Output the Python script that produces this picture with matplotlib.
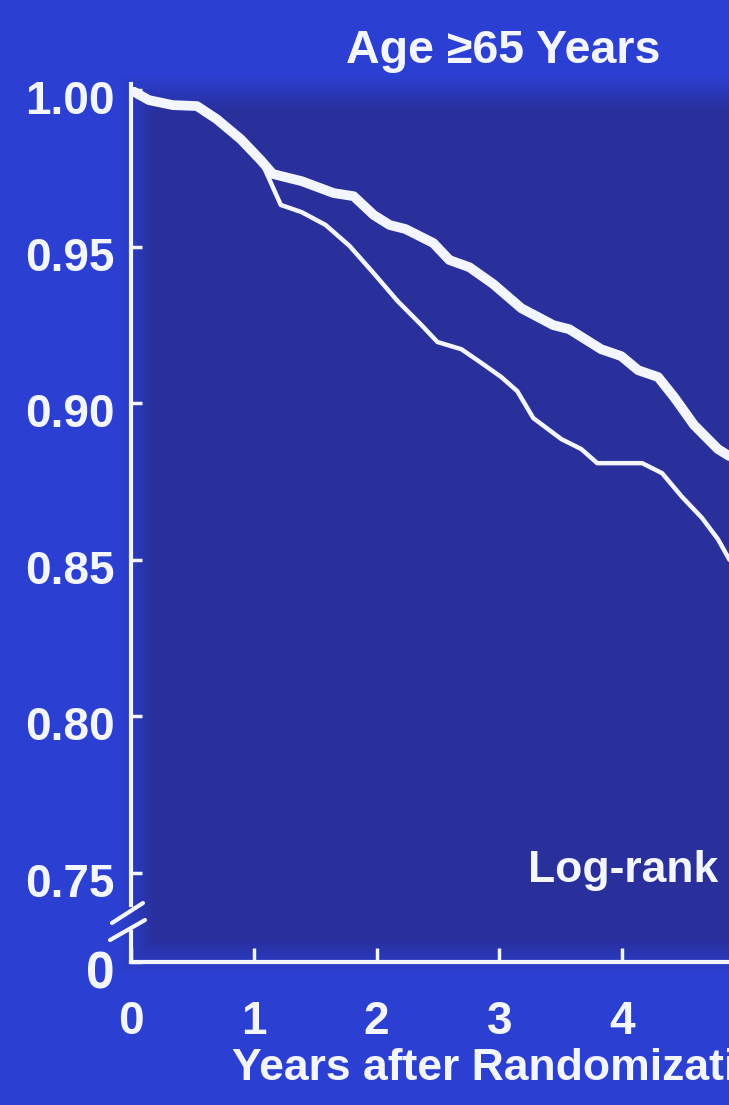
import numpy as np
import matplotlib.pyplot as plt
from matplotlib.transforms import ScaledTranslation

# survival curves (years, proportion event-free)
t_upper = [0.0, 0.146, 0.341, 0.537, 0.699, 0.894, 1.057, 1.154, 1.39, 1.65,
           1.813, 1.976, 2.106, 2.236, 2.463, 2.593, 2.756, 2.951, 3.179,
           3.439, 3.569, 3.829, 3.992, 4.130, 4.293, 4.423, 4.585, 4.780, 4.87]
s_upper = [1.000, 0.9968, 0.9952, 0.9949, 0.9907, 0.9843, 0.9776, 0.9732,
           0.9709, 0.9671, 0.9661, 0.9601, 0.9569, 0.9556, 0.9511, 0.9457,
           0.9434, 0.9380, 0.9303, 0.9249, 0.9236, 0.9172, 0.9150, 0.9105,
           0.9083, 0.9019, 0.8930, 0.8853, 0.8831]

t_lower = [0.0, 0.146, 0.341, 0.537, 0.699, 0.894, 1.057, 1.22, 1.39, 1.585,
           1.78, 1.976, 2.171, 2.366, 2.496, 2.691, 2.854, 3.016, 3.146,
           3.276, 3.504, 3.667, 3.797, 4.163, 4.325, 4.488, 4.650, 4.780, 4.87]
s_lower = [1.000, 0.9968, 0.9952, 0.9949, 0.9907, 0.9843, 0.9776, 0.9633,
           0.9610, 0.9569, 0.9502, 0.9415, 0.9326, 0.9249, 0.9195, 0.9172,
           0.9128, 0.9083, 0.9038, 0.8952, 0.8885, 0.8853, 0.8808, 0.8808,
           0.8776, 0.8700, 0.8633, 0.8565, 0.8502]

x_ticks = [0, 1, 2, 3, 4]
y_ticks = [0.75, 0.80, 0.85, 0.90, 0.95, 1.00]
y_labels = ['0.75', '0.80', '0.85', '0.90', '0.95', '1.00']
y_zero = 0.7214  # where the broken axis puts "0"

bg_out = np.array([43, 63, 210]) / 255
bg_in = np.array([41, 47, 155]) / 255
fg = '#f4f6ff'

plt.rcParams['font.family'] = ['Liberation Sans', 'DejaVu Sans']
plt.rcParams['font.weight'] = 'bold'

W, H = 729, 1105
fig = plt.figure(figsize=(W / 100, H / 100), dpi=100, facecolor=bg_out)

# soft darker panel behind the plot, like the projected slide
yy, xx = np.mgrid[0:H, 0:W]
d = np.minimum(np.minimum(xx - 131, W + 200 - xx), np.minimum(yy - 87, 962 - yy))
w = np.clip((d + 12) / 36.0, 0, 1)[..., None]
img = bg_out * (1 - w) + bg_in * w
bg = fig.add_axes([0, 0, 1, 1], zorder=-1)
bg.imshow(img, aspect='auto', interpolation='bilinear')
bg.axis('off')

ax = fig.add_axes([0.1797, 0.1294, 0.8203, 0.7919])
ax.set_facecolor('none')

ax.plot(t_upper, s_upper, color=fg, lw=7, solid_joinstyle='round',
        solid_capstyle='round', zorder=3)
ax.plot(t_lower, s_lower, color=fg, lw=3.2, solid_joinstyle='round', zorder=2)

ax.set_xlim(0, 4.87)
ax.set_ylim(y_zero, 1.001)

for side in ['top', 'right', 'left']:
    ax.spines[side].set_visible(False)
ax.spines['bottom'].set_color(fg)
ax.spines['bottom'].set_linewidth(3)

# left axis drawn in two pieces around the break
tr = ax.transAxes
ax.plot([0, 0], [0.0, 0.034], color=fg, lw=3, transform=tr, clip_on=False)
ax.plot([0, 0], [0.065, 1.003], color=fg, lw=3, transform=tr, clip_on=False)
ax.plot([-0.0318, 0.020], [0.0446, 0.0674], color=fg, lw=3, transform=tr,
        clip_on=False, solid_capstyle='round')
ax.plot([-0.0351, 0.0234], [0.0251, 0.048], color=fg, lw=3, transform=tr,
        clip_on=False, solid_capstyle='round')

ax.set_xticks(x_ticks)
ax.set_xticklabels([str(v) for v in x_ticks])
ax.set_yticks([y_zero] + y_ticks)
ax.set_yticklabels(['0'] + y_labels)
ax.tick_params(axis='x', direction='in', length=10, width=2.5, color=fg,
               labelcolor=fg, labelsize=33, pad=27)
ax.tick_params(axis='y', direction='in', length=8, width=2.5, color=fg,
               labelcolor=fg, labelsize=33, pad=12)
ax.get_yticklabels()[0].set_fontsize(37)

# the slide's y labels sit a little below their ticks
shift = ScaledTranslation(0, -0.07, fig.dpi_scale_trans)
for tick in ax.yaxis.get_major_ticks():
    tick.label1.set_transform(tick.label1.get_transform() + shift)

ax.set_xlabel('Years after Randomization', color=fg, fontsize=32,
              fontweight='bold', ha='left')
ax.xaxis.set_label_coords(0.169, -0.098)

ax.text(3.236, 0.747, 'Log-rank', color=fg, fontsize=32, fontweight='bold',
        ha='left', va='baseline')

fig.text(346 / W, 1 - 63 / H, 'Age \u226565 Years', color=fg,
         fontsize=33.5, fontweight='bold', ha='left', va='baseline')

fig.savefig('out.png', dpi=100, facecolor=bg_out)
